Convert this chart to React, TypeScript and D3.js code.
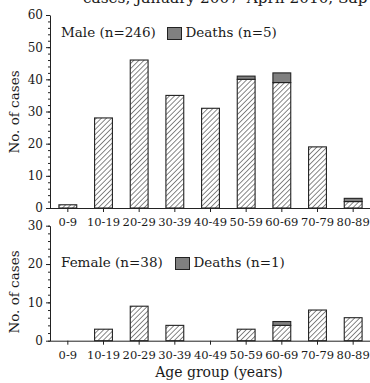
import React, { useEffect, useRef } from 'react';
import * as d3 from 'd3';

const ageGroups = ['0-9', '10-19', '20-29', '30-39', '40-49', '50-59', '60-69', '70-79', '80-89'];
const maleSurvived = [1, 28, 46, 35, 31, 40, 39, 19, 2];
const maleDeaths = [0, 0, 0, 0, 0, 1, 3, 0, 1];
const femaleSurvived = [0, 3, 9, 4, 0, 3, 4, 8, 6];
const femaleDeaths = [0, 0, 0, 0, 0, 0, 1, 0, 0];

const FONT = 'DejaVu Serif';
const INK = '#1a1a1a';

const App = () => {
  const ref = useRef<SVGSVGElement>(null);

  useEffect(() => {
    const svg = d3.select(ref.current);
    svg.selectAll('*').remove();

    // hatch pattern, "/" lines
    const pat = svg
      .append('defs')
      .append('pattern')
      .attr('id', 'hatch')
      .attr('patternUnits', 'userSpaceOnUse')
      .attr('width', 3.6)
      .attr('height', 3.6)
      .attr('patternTransform', 'rotate(45)');
    pat.append('rect').attr('width', 3.6).attr('height', 3.6).attr('fill', '#fff');
    pat
      .append('line')
      .attr('x1', 0)
      .attr('y1', 0)
      .attr('x2', 0)
      .attr('y2', 3.6)
      .attr('stroke', '#111')
      .attr('stroke-width', 1);

    // caption, cut by the top edge as in the source
    svg
      .append('text')
      .attr('x', 83)
      .attr('y', 3)
      .attr('font-family', FONT)
      .attr('font-size', 15.3)
      .attr('fill', INK)
      .text('cases, January 2007–April 2010, Sap');

    const x = d3.scaleBand().domain(ageGroups).range([50, 371]).paddingInner(0.5).paddingOuter(0.25);

    const panel = (
      survived: number[],
      deaths: number[],
      yMax: number,
      yTop: number,
      yBottom: number,
      label: string,
      deathLabel: string,
      legendY: number,
      boxX: number,
      yTitleY: number
    ) => {
      const y = d3.scaleLinear().domain([0, yMax]).range([yBottom, yTop]);
      const g = svg.append('g');

      // bars
      const bars = g.selectAll('g.bar').data(ageGroups).enter().append('g');
      bars
        .filter((d) => survived[ageGroups.indexOf(d)] > 0)
        .append('rect')
        .attr('x', (d) => x(d)!)
        .attr('width', x.bandwidth())
        .attr('y', (d) => y(survived[ageGroups.indexOf(d)]))
        .attr('height', (d) => y(0) - y(survived[ageGroups.indexOf(d)]))
        .attr('fill', 'url(#hatch)')
        .attr('stroke', '#222')
        .attr('stroke-width', 1.1);
      bars
        .filter((d) => deaths[ageGroups.indexOf(d)] > 0)
        .append('rect')
        .attr('x', (d) => x(d)!)
        .attr('width', x.bandwidth())
        .attr('y', (d) => {
          const i = ageGroups.indexOf(d);
          return y(survived[i] + deaths[i]);
        })
        .attr('height', (d) => {
          const i = ageGroups.indexOf(d);
          return y(survived[i]) - y(survived[i] + deaths[i]);
        })
        .attr('fill', '#808080')
        .attr('stroke', '#222')
        .attr('stroke-width', 1.1);

      // y axis: minor + major
      g.append('g')
        .attr('transform', 'translate(50,0)')
        .call(
          d3
            .axisLeft(y)
            .tickValues(d3.range(0, yMax + 1, 2))
            .tickSize(2)
            .tickFormat(() => '')
        )
        .call((a) => a.select('.domain').remove());
      const ya = g
        .append('g')
        .attr('transform', 'translate(50,0)')
        .call(d3.axisLeft(y).tickValues(d3.range(0, yMax + 1, 10)).tickSize(4).tickPadding(3).tickSizeOuter(0));
      ya.selectAll('text').attr('font-family', FONT).attr('font-size', 12).attr('fill', INK);

      // x axis
      const xa = g
        .append('g')
        .attr('transform', `translate(0,${yBottom})`)
        .call(d3.axisBottom(x).tickSize(4).tickPadding(6).tickSizeOuter(0));
      xa.select('.domain').attr('d', `M50,0.5H370`);
      xa.selectAll('text').attr('font-family', FONT).attr('font-size', 11.5).attr('fill', INK);

      g.selectAll('.domain, .tick line').attr('stroke', '#222');

      // y title
      g.append('text')
        .attr('transform', `translate(19,${yTitleY}) rotate(-90)`)
        .attr('text-anchor', 'middle')
        .attr('font-family', FONT)
        .attr('font-size', 13.5)
        .attr('fill', INK)
        .text('No. of cases');

      // legend
      g.append('text')
        .attr('x', 61)
        .attr('y', legendY)
        .attr('font-family', FONT)
        .attr('font-size', 13.5)
        .attr('fill', INK)
        .text(label);
      g.append('rect')
        .attr('x', boxX)
        .attr('y', legendY - 9.5)
        .attr('width', 14)
        .attr('height', 12)
        .attr('fill', '#808080')
        .attr('stroke', '#222');
      g.append('text')
        .attr('x', boxX + 18)
        .attr('y', legendY)
        .attr('font-family', FONT)
        .attr('font-size', 13.5)
        .attr('fill', INK)
        .text(deathLabel);
    };

    panel(maleSurvived, maleDeaths, 60, 15, 208, 'Male (n=246)', 'Deaths (n=5)', 37, 167.5, 112);
    panel(femaleSurvived, femaleDeaths, 30, 225.7, 340.7, 'Female (n=38)', 'Deaths (n=1)', 267, 175.5, 292);

    svg
      .append('text')
      .attr('x', 219)
      .attr('y', 377)
      .attr('text-anchor', 'middle')
      .attr('font-family', FONT)
      .attr('font-size', 14)
      .attr('fill', INK)
      .text('Age group (years)');
  }, []);

  return (
    <svg
      ref={ref}
      width={370}
      height={383}
      style={{ position: 'absolute', left: 0, top: 0, background: '#fff' }}
    />
  );
};

export default App;
